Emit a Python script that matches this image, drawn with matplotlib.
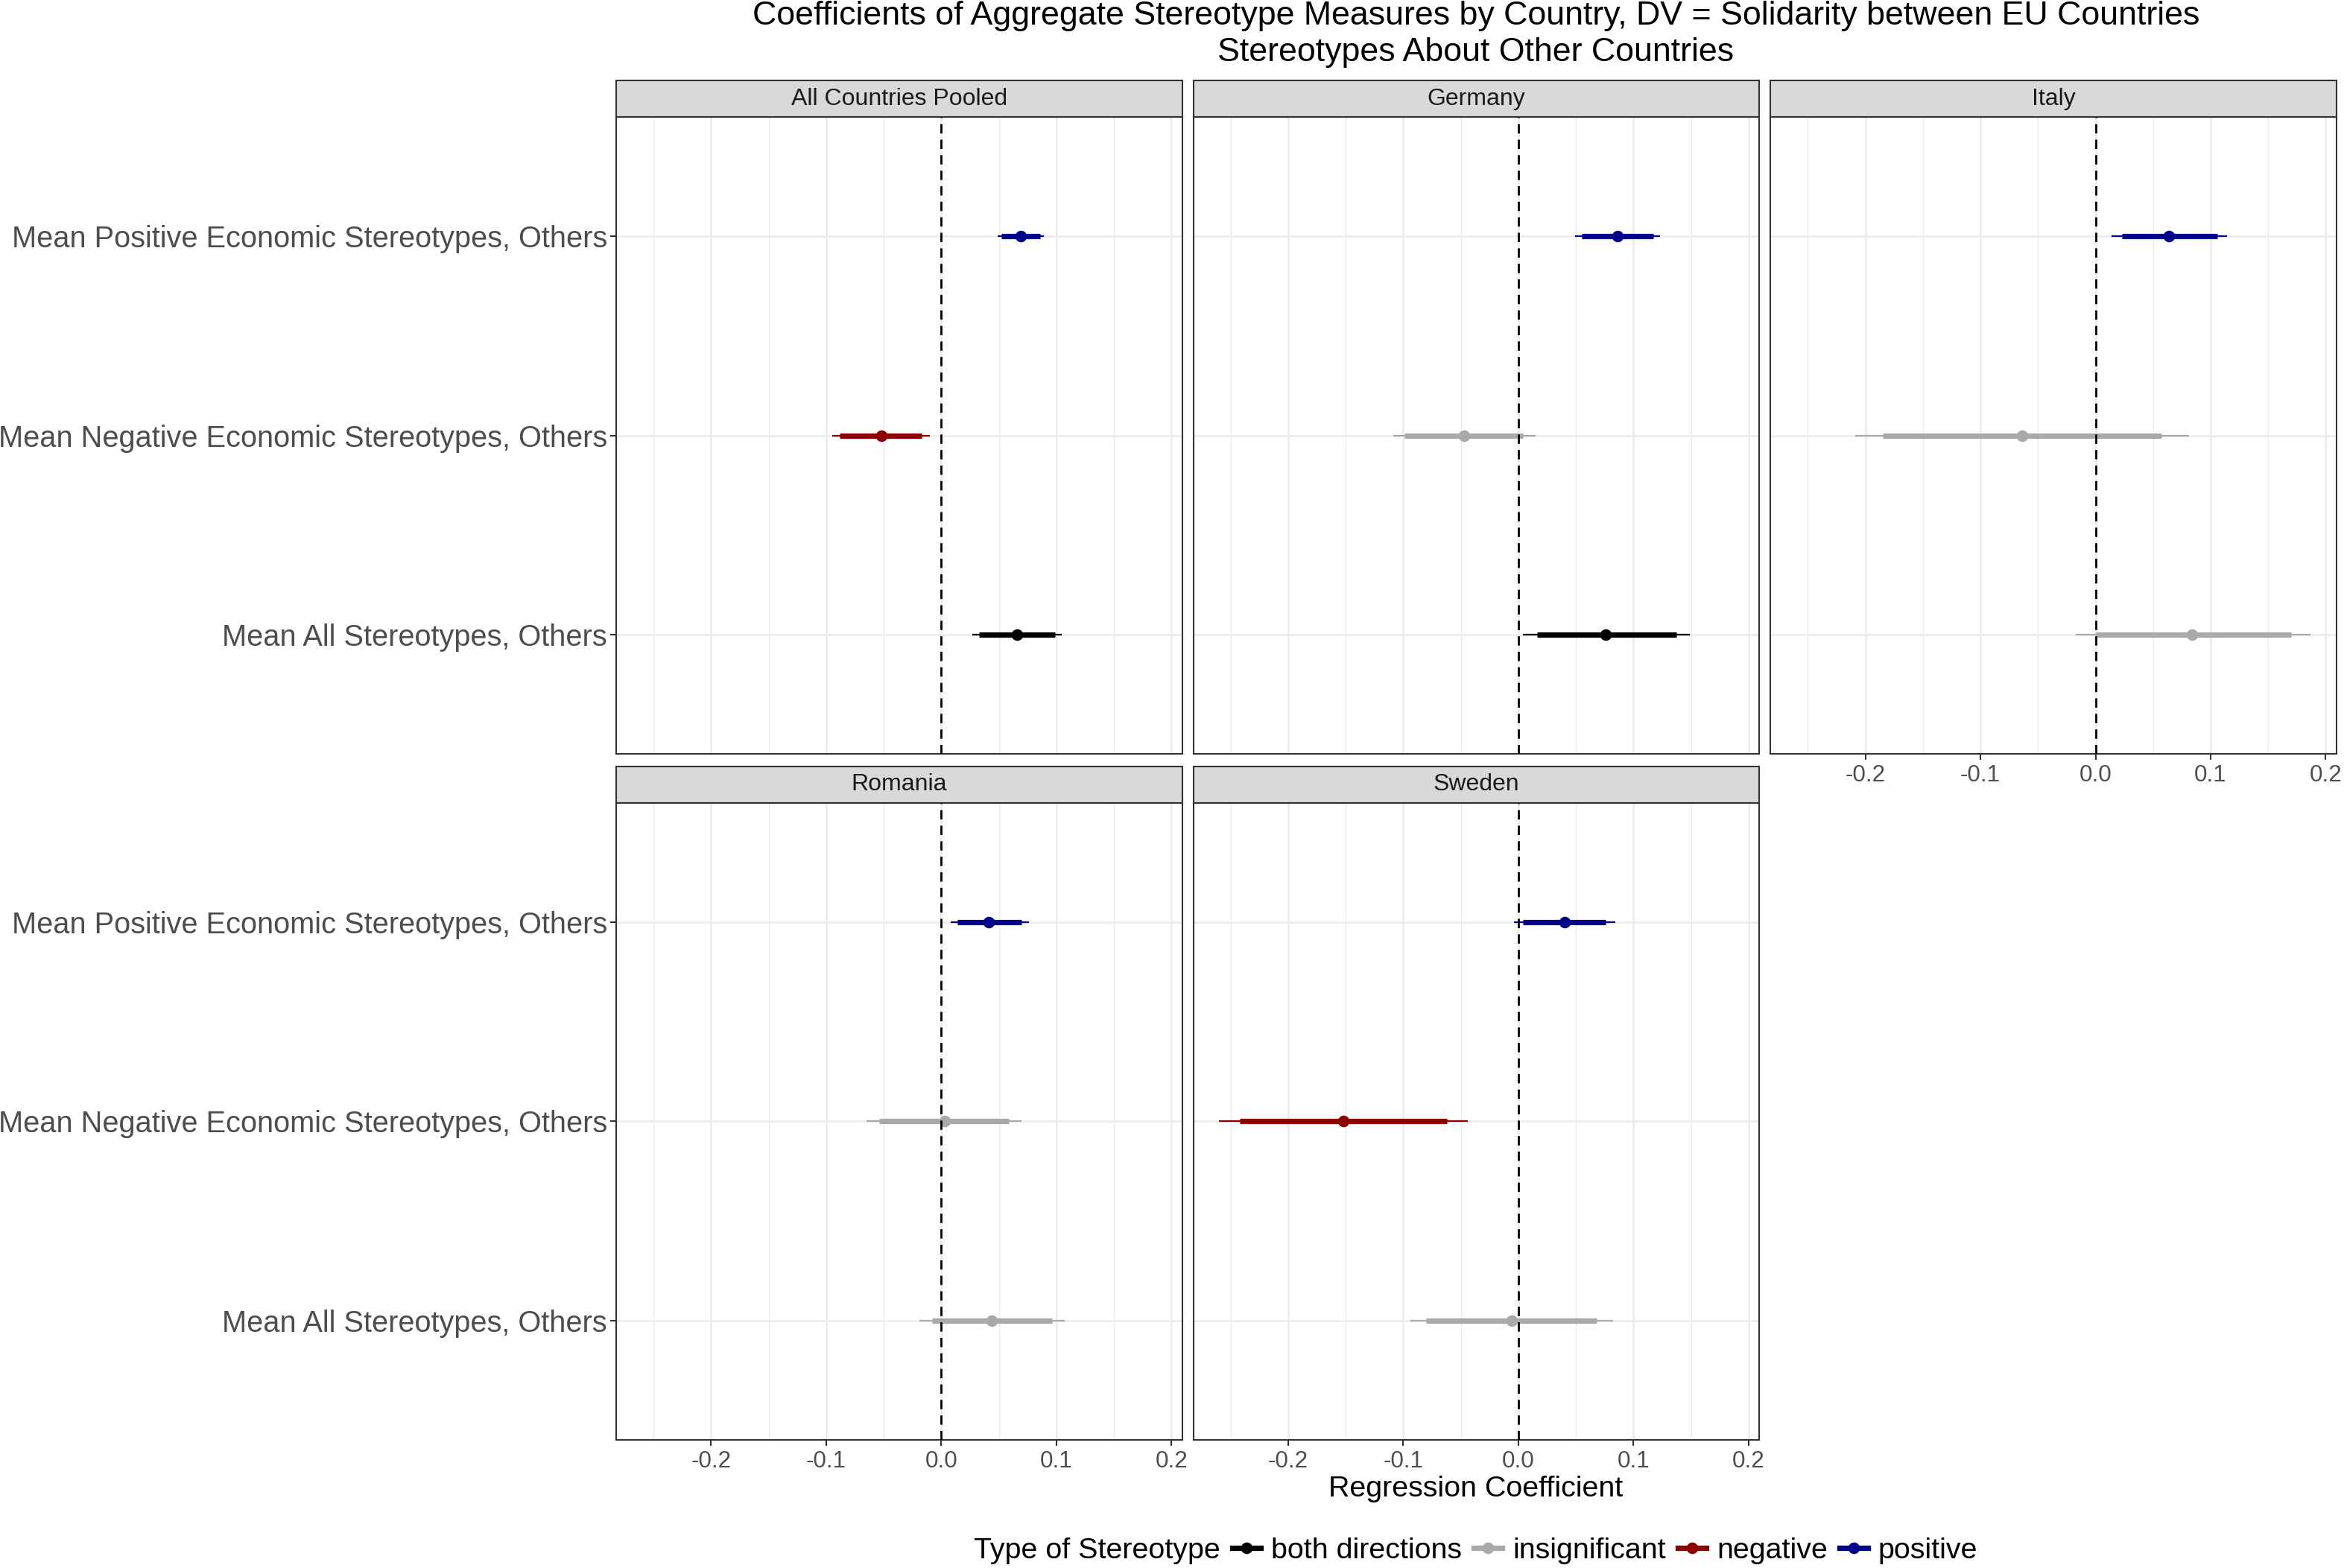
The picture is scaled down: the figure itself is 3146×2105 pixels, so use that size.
import matplotlib
matplotlib.use("Agg")
import matplotlib.pyplot as plt
from matplotlib.lines import Line2D
from matplotlib.patches import Rectangle
from matplotlib.ticker import MultipleLocator, FormatStrFormatter, NullLocator

# ---- data ----
panels = ["All Countries Pooled", "Germany", "Italy", "Romania", "Sweden"]
measures = ["Mean Positive Economic Stereotypes, Others",
            "Mean Negative Economic Stereotypes, Others",
            "Mean All Stereotypes, Others"]

# one row per panel, columns follow `measures`
estimate = [[0.069, -0.052, 0.066],
            [0.086, -0.047, 0.076],
            [0.064, -0.064, 0.084],
            [0.041, 0.003, 0.044],
            [0.040, -0.152, -0.006]]
lo_outer = [[0.049, -0.095, 0.027],
            [0.049, -0.109, 0.004],
            [0.014, -0.209, -0.017],
            [0.008, -0.065, -0.019],
            [-0.004, -0.260, -0.094]]
hi_outer = [[0.089, -0.010, 0.105],
            [0.123, 0.015, 0.149],
            [0.114, 0.081, 0.187],
            [0.076, 0.070, 0.107],
            [0.084, -0.044, 0.082]]
lo_inner = [[0.052, -0.088, 0.033],
            [0.055, -0.099, 0.016],
            [0.023, -0.185, 0.000],
            [0.014, -0.054, -0.008],
            [0.004, -0.242, -0.080]]
hi_inner = [[0.086, -0.017, 0.099],
            [0.117, 0.004, 0.137],
            [0.106, 0.057, 0.170],
            [0.070, 0.059, 0.096],
            [0.076, -0.062, 0.068]]
kind = [["positive", "negative", "both directions"],
        ["positive", "insignificant", "both directions"],
        ["positive", "insignificant", "insignificant"],
        ["positive", "insignificant", "insignificant"],
        ["positive", "negative", "insignificant"]]

type_names = ["both directions", "insignificant", "negative", "positive"]
type_colors = ["black", "darkgray", "darkred", "darkblue"]
color_of = dict(zip(type_names, type_colors))

# ---- style ----
plt.rcParams["font.family"] = ["Liberation Sans", "DejaVu Sans"]
plt.rcParams["axes.unicode_minus"] = False

W, H, DPI = 3146, 2105, 200
fig = plt.figure(figsize=(W / DPI, H / DPI), dpi=DPI)
gs = fig.add_gridspec(2, 3, left=0.2629, right=0.9968, top=0.9254, bottom=0.0817,
                      wspace=0.0198, hspace=0.0765)

border = "#333333"
grid_col = "#EBEBEB"
strip_h = 0.0572
thin_lw, thick_lw, point_ms = 0.8, 2.6, 5.6
ypos = [len(measures) - k for k in range(len(measures))]

ref = None
for i, name in enumerate(panels):
    r, c = divmod(i, 3)
    ax = fig.add_subplot(gs[r, c], sharex=ref, sharey=ref)
    if ref is None:
        ref = ax

    for k in range(len(measures)):
        col = color_of[kind[i][k]]
        ax.hlines(ypos[k], lo_outer[i][k], hi_outer[i][k], color=col, lw=thin_lw, zorder=3)
        ax.hlines(ypos[k], lo_inner[i][k], hi_inner[i][k], color=col, lw=thick_lw, zorder=3)
        ax.plot(estimate[i][k], ypos[k], "o", color=col, ms=point_ms, mew=0, zorder=4)
    ax.axvline(0, color="black", ls=(0, (4.5, 3)), lw=1.0, zorder=5)

    ax.set_xmargin(0.05)
    ax.set_ylim(0.4, len(measures) + 0.6)
    ax.xaxis.set_major_locator(MultipleLocator(0.1))
    ax.xaxis.set_minor_locator(MultipleLocator(0.05))
    ax.xaxis.set_major_formatter(FormatStrFormatter("%.1f"))
    ax.yaxis.set_minor_locator(NullLocator())
    ax.set_yticks(ypos)
    ax.set_yticklabels(measures)
    ax.set_axisbelow(True)
    ax.grid(which="major", color=grid_col, lw=0.9)
    ax.grid(which="minor", axis="x", color=grid_col, lw=0.45)
    for sp in ax.spines.values():
        sp.set_color(border)
        sp.set_linewidth(0.75)

    ax.tick_params(which="minor", length=0)
    ax.tick_params(which="major", length=2.9, width=0.75, color=border,
                   labelcolor="#4D4D4D")
    ax.tick_params(axis="y", labelsize=14.3, pad=1.5)
    ax.tick_params(axis="x", labelsize=11.3, pad=2.0)
    if c != 0:
        ax.tick_params(axis="y", left=False, labelleft=False)
    if i + 3 < len(panels):
        ax.tick_params(axis="x", bottom=False, labelbottom=False)

    # facet strip
    ax.add_patch(Rectangle((0, 1), 1, strip_h, transform=ax.transAxes,
                           facecolor="#D9D9D9", edgecolor=border, lw=0.75,
                           clip_on=False))
    ax.text(0.5, 1 + strip_h / 2, name, transform=ax.transAxes, ha="center",
            va="center", fontsize=11.5, color="#1A1A1A")

x_mid = 1981 / W
fig.text(x_mid, 1 - 33 / H,
         "Coefficients of Aggregate Stereotype Measures by Country, DV = Solidarity between EU Countries",
         ha="center", va="baseline", fontsize=16.1)
fig.text(x_mid, 1 - 82 / H, "Stereotypes About Other Countries",
         ha="center", va="baseline", fontsize=16.1)
fig.text(x_mid, 1 - 2009 / H, "Regression Coefficient", ha="center",
         va="baseline", fontsize=14.2)

# legend: the title sits in front of the keys, on the same row
handles = [Line2D([], [], color="none")]
handles += [Line2D([], [], color=c, lw=thick_lw, marker="o", ms=point_ms, mew=0)
            for c in type_colors]
labels = ["Type of Stereotype"] + type_names
fig.legend(handles, labels, loc="center", bbox_to_anchor=(1955 / W, 1 - 2082 / H),
           ncol=len(labels), frameon=False, fontsize=14.2, handlelength=0.96,
           handletextpad=0.355, columnspacing=0.41, borderpad=0, borderaxespad=0)

fig.savefig("out.png", dpi=DPI)
